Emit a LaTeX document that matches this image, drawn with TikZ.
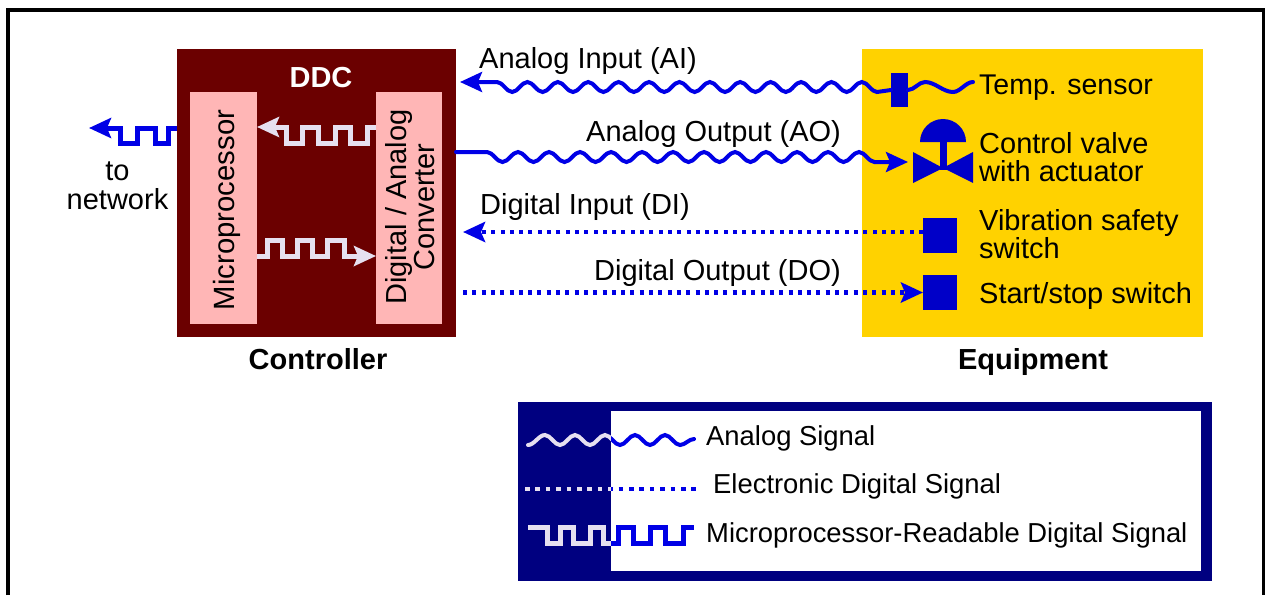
\documentclass[tikz,border=0pt]{standalone}
\usepackage{fontspec}
\setmainfont{Liberation Sans}
\usetikzlibrary{arrows.meta}
\definecolor{ddcred}{HTML}{6B0000}
\definecolor{boxpink}{HTML}{FFB6B6}
\definecolor{equipyellow}{HTML}{FFD200}
\definecolor{legendnavy}{HTML}{000080}
\definecolor{sigblue}{HTML}{0000E6}
\definecolor{partblue}{HTML}{0000C8}
\definecolor{siglight}{HTML}{E6E0F0}
% one full wave: count, quarter step, half height
\newcommand{\wavecycles}[3]{\foreach \i in {1,...,#1} {cos ++(#2,#3) sin ++(#2,#3) cos ++(#2,-#3) sin ++(#2,-#3)}}
% the three legend lines
\newcommand{\legendsignals}[1]{%
    \draw[analog,#1] (528,445) cos ++(8.5,-5) sin ++(8.5,-5) \wavecycles{4}{7.5}{5} cos ++(7.5,5) sin ++(7.5,5) cos ++(7,-3) sin ++(7,-3);
    \draw[dotted line,dash pattern=on 4.5pt off 5.9pt,#1] (525,489) -- (697,489);
    \draw[digital,#1] (528,527.5) -- (547,527.5) -- (547,543) -- (560,543) -- (560,527.5) -- (573,527.5) -- (573,543) -- (590,543) -- (590,527.5) -- (603,527.5) -- (603,543) -- (618,543) -- (618,527.5) -- (633,527.5) -- (633,543) -- (650,543) -- (650,527.5) -- (665,527.5) -- (665,543) -- (683,543) -- (683,527.5) -- (694,527.5);
}
\tikzset{
    analog/.style={line width=4pt,line cap=round,sigblue},
    digital/.style={line width=5pt,sigblue},
    dotted line/.style={line width=4.5pt,sigblue,dash pattern=on 4pt off 5.3pt},
    head/.style={-{Stealth[length=22pt,width=20pt,inset=4pt]}},
    box/.style={inner sep=0pt,outer sep=0pt},
    label/.style={inner sep=0pt,anchor=base west,font=\fontsize{29}{29}\selectfont},
    keylabel/.style={inner sep=0pt,anchor=base west,font=\fontsize{27.4}{28}\selectfont},
    title/.style={inner sep=0pt,anchor=base,font=\fontsize{29}{29}\selectfont\bfseries},
    part/.style={inner sep=0pt,outer sep=0pt,partblue,fill=partblue}
}
\begin{document}
\begin{tikzpicture}[x=1pt,y=-1pt]
    \useasboundingbox (0,0) rectangle (1265,595);

    % Draw the frame
    \draw[line width=4pt] (8,595) -- (8,10) -- (1264,10) -- (1264,595);

    % Draw the controller boxes
    \node[box,fill=ddcred,minimum width=279,minimum height=288] (ddc) at (316.5,193) {};
    \node[box,fill=boxpink,minimum width=67,minimum height=232] (micro) at (223.5,208) {};
    \node[box,fill=boxpink,minimum width=66,minimum height=232] (conv) at (409,208) {};
    \node[title,white] (ddclabel) at (321,87) {DDC};
    \node[inner sep=0pt,rotate=90,font=\fontsize{29.3}{29}\selectfont] (microlabel) at (227,210) {Microprocessor};
    \node[inner sep=0pt,rotate=90,align=center,font=\fontsize{29}{28}\selectfont] (convlabel) at (410,207) {Digital / Analog\\Converter};
    \node[title] (controller) at (318,369) {Controller};

    % Draw the equipment box
    \node[box,fill=equipyellow,minimum width=341,minimum height=288] (equip) at (1032.5,193) {};
    \node[title] (equipment) at (1033,369) {Equipment};

    % Draw the temp sensor, the switches and the valve
    \node[part,minimum width=17,minimum height=34] (sensor) at (899.5,90) {};
    \node[part,minimum width=34,minimum height=35] (vibsw) at (940,235.5) {};
    \node[part,minimum width=34,minimum height=35] (startsw) at (940,292.5) {};
    \coordinate (valvein) at (908,162);
    \fill[partblue] (913,152) -- (943,168) -- (973,152) -- (973,183) -- (943,168) -- (913,183) -- cycle;
    \fill[partblue] (939.5,140) rectangle (946.5,170);
    \fill[partblue] (920,142) arc[start angle=180,end angle=360,x radius=23,y radius=23] -- cycle;

    % Label the equipment
    \node[label,font=\fontsize{28.5}{29}\selectfont] (templabel) at (979,94) {Temp. sensor};
    \node[label] (valvelabel) at (979,153) {Control valve};
    \node[label] (valvelabelb) at (979,181) {with actuator};
    \node[label] (viblabel) at (979,230) {Vibration safety};
    \node[label] (viblabelb) at (979,258) {switch};
    \node[label] (startlabel) at (979,303) {Start/stop switch};

    % Draw the analog input
    \coordinate (aiy) at (0,82);
    \draw[analog,head,shorten >=4pt] (sensor.west) -- ++(-14,2) \wavecycles{12}{-7.6}{-5} cos ++(-7.6,-5) sin ++(-7.6,-5) -- (ddc.east |- aiy);
    \draw[analog] (sensor.east) cos ++(8.5,-4) sin ++(8.5,-4) cos ++(14,5) sin ++(14,5) cos ++(10,-5) sin ++(10,-5);
    \node[label] (ailabel) at (479,68) {Analog Input (AI)};

    % Draw the analog output
    \coordinate (aoy) at (0,152);
    \draw[analog,head] (ddc.east |- aoy) -- (487,152) cos ++(7.75,5) sin ++(7.75,5) \wavecycles{12}{7.75}{-5} -- (valvein);
    \node[label] (aolabel) at (586,141) {Analog Output (AO)};

    % Draw the digital input and output
    \coordinate (diy) at (0,232);
    \draw[dotted line,head,shorten >=7pt] (vibsw.west |- diy) -- (ddc.east |- diy);
    \node[label] (dilabel) at (480,214) {Digital Input (DI)};
    \draw[dotted line,head,shorten <=7pt] (ddc.east |- startsw.west) -- (startsw.west);
    \node[label] (dolabel) at (594,280) {Digital Output (DO)};

    % Draw the readable signals in the controller
    \coordinate (convout) at (0,127);
    \draw[digital,siglight,head] (conv.west |- convout) -- ++(-9,0) -- ++(0,16) -- ++(-17,0) -- ++(0,-16) -- ++(-15,0) -- ++(0,16) -- ++(-17,0) -- ++(0,-16) -- ++(-16,0) -- ++(0,16) -- ++(-16,0) -- ++(0,-16) -- (micro.east |- convout);
    \coordinate (microout) at (0,256);
    \draw[digital,siglight,head] (micro.east |- microout) -- ++(10,0) -- ++(0,-16) -- ++(15,0) -- ++(0,16) -- ++(15,0) -- ++(0,-16) -- ++(15,0) -- ++(0,16) -- ++(15,0) -- ++(0,-16) -- ++(17,0) -- ++(0,16) -- (conv.west |- microout);

    % Draw the signal to the network
    \coordinate (netout) at (89,128);
    \draw[digital,head] (ddc.west |- netout) -- ++(-9,0) -- ++(0,15) -- ++(-13,0) -- ++(0,-15) -- ++(-18,0) -- ++(0,15) -- ++(-17,0) -- ++(0,-15) -- (netout);
    \node[inner sep=0pt,anchor=base,font=\fontsize{29}{29}\selectfont] (tolabel) at (117.5,180) {to};
    \node[inner sep=0pt,anchor=base,font=\fontsize{29}{29}\selectfont] (netlabel) at (117.5,209) {network};

    % Draw the legend
    \node[box,fill=legendnavy,minimum width=694,minimum height=179] (legend) at (865,491.5) {};
    \legendsignals{siglight}
    \node[box,fill=white,minimum width=590,minimum height=160] (legendinner) at (906,491) {};
    \begin{scope}
        \clip (legendinner.north west) rectangle (legendinner.south east);
        \legendsignals{sigblue}
    \end{scope}

    % Label the legend
    \node[keylabel] (analoglabel) at (706,445) {Analog Signal};
    \node[keylabel] (electronlabel) at (713,493) {Electronic Digital Signal};
    \node[keylabel] (readlabel) at (706,542) {Microprocessor-Readable Digital Signal};
\end{tikzpicture}
\end{document}
